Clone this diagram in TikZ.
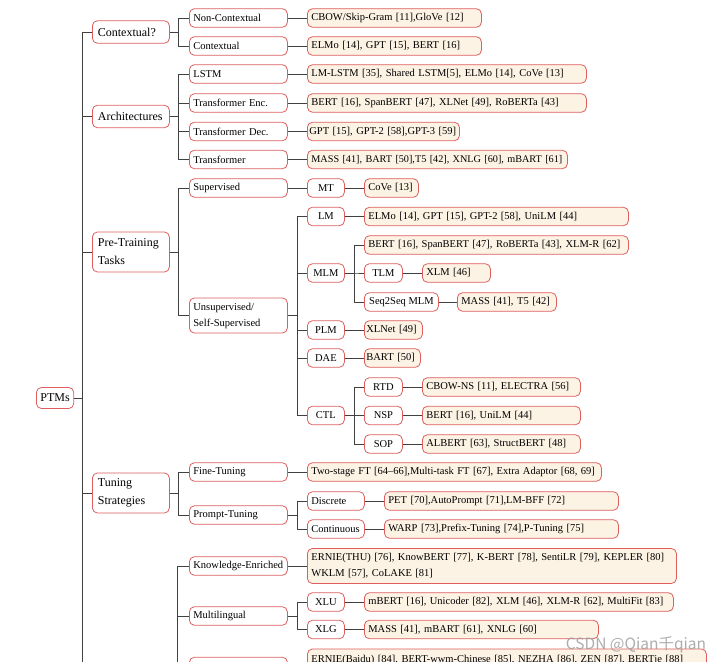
\documentclass[tikz,border=0pt]{standalone}
\usepackage{fontspec}
\setmainfont{Liberation Serif}
\newfontfamily\cjk{Noto Sans CJK SC}

\definecolor{boxred}{RGB}{222,94,94}
\definecolor{leafbg}{RGB}{253,243,228}

\tikzset{
  box/.style={draw=boxred, line width=0.8pt, rounded corners=5pt, anchor=west,
    fill=white, minimum height=18.5pt, inner xsep=5pt, inner ysep=1.5pt,
    font=\fontsize{10.5}{16}\selectfont},
  root/.style={box, minimum height=21pt, inner xsep=4pt,
    font=\fontsize{12}{18}\selectfont},
  topic/.style={box, text width=66pt, align=left, inner xsep=5.5pt,
    minimum height=22.5pt, font=\fontsize{12}{18}\selectfont},
  branch/.style={box, text width=90pt, align=left, inner xsep=4pt},
  tag/.style={box, minimum width=37pt, inner xsep=3pt, align=center},
  leaf/.style={box, fill=leafbg, inner xsep=4pt, align=left, text width=#1},
  link/.style={draw=black!75, line width=0.6pt},
}

\begin{document}
\begin{tikzpicture}[x=1pt, y=-1pt]
  \useasboundingbox (0,0) rectangle (724,666);
  \def\xa{92}
  \def\xb{189}
  \def\xc{307}
  \def\xd{364}

  \begin{scope}
  \clip (0,0) rectangle (724,661);

  % root and first level
  \node[root] (ptms) at (36,398) {PTMs};
  \node[topic] (ctx) at (\xa,32) {Contextual?};
  \node[topic] (arch) at (\xa,116.5) {Architectures};
  \node[topic, minimum height=40pt] (task) at (\xa,252) {Pre-Training Tasks};
  \node[topic, minimum height=40pt] (tune) at (\xa,493) {Tuning Strategies};
  \coordinate (ext) at (\xa,720);
  \coordinate (exte) at (169,720);

  % second level
  \node[branch] (nonctx) at (\xb,18) {Non-Contextual};
  \node[branch] (ctxl) at (\xb,46) {Contextual};
  \node[branch] (lstm) at (\xb,74) {LSTM};
  \node[branch] (tenc) at (\xb,103) {Transformer Enc.};
  \node[branch] (tdec) at (\xb,131.5) {Transformer Dec.};
  \node[branch] (tfm) at (\xb,159.5) {Transformer};
  \node[branch] (sup) at (\xb,188) {Supervised};
  \node[branch, minimum height=35pt] (unsup) at (\xb,315.5) {Unsupervised/\\Self-Supervised};
  \node[branch] (fine) at (\xb,472) {Fine-Tuning};
  \node[branch] (prompt) at (\xb,515) {Prompt-Tuning};
  \node[branch] (know) at (\xb,566) {Knowledge-Enriched};
  \node[branch] (multi) at (\xb,616) {Multilingual};
  \node[branch] (lang) at (\xb,666.5) {};

  % third level
  \node[tag] (mt) at (\xc,188) {MT};
  \node[tag] (lm) at (\xc,216.5) {LM};
  \node[tag] (mlm) at (\xc,273) {MLM};
  \node[tag] (plm) at (\xc,330) {PLM};
  \node[tag] (dae) at (\xc,358) {DAE};
  \node[tag] (ctl) at (\xc,415.5) {CTL};
  \node[box, text width=49pt, align=left, inner xsep=4pt] (disc) at (\xc,501) {Discrete};
  \node[box, text width=49pt, align=left, inner xsep=4pt] (cont) at (\xc,529) {Continuous};
  \node[tag] (xlu) at (\xc,602) {XLU};
  \node[tag] (xlg) at (\xc,629.5) {XLG};

  % fourth level
  \node[tag, minimum width=38pt] (tlm) at (\xd,273) {TLM};
  \node[tag, minimum width=74pt] (s2s) at (\xd,302) {Seq2Seq MLM};
  \node[tag, minimum width=38pt] (rtd) at (\xd,387) {RTD};
  \node[tag, minimum width=38pt] (nsp) at (\xd,415.5) {NSP};
  \node[tag, minimum width=38pt] (sop) at (\xd,444) {SOP};

  % leaves
  \node[leaf=166pt] (l1) at (\xc,18) {CBOW/Skip-Gram [11],GloVe [12]};
  \node[leaf=166pt] (l2) at (\xc,46) {ELMo [14], GPT [15], BERT [16]};
  \node[leaf=271pt] (l3) at (\xc,74) {LM-LSTM [35], Shared LSTM[5], ELMo [14], CoVe [13]};
  \node[leaf=271pt] (l4) at (\xc,103) {BERT [16], SpanBERT [47], XLNet [49], RoBERTa [43]};
  \node[leaf=148pt, inner xsep=2pt] (l5) at (\xc,131.5) {GPT [15], GPT-2 [58],GPT-3 [59]};
  \node[leaf=252pt, font=\fontsize{10.2}{16}\selectfont] (l6) at (\xc,159.5) {\mbox{MASS [41], BART [50],T5 [42], XNLG [60], mBART [61]}};
  \node[leaf=46pt] (covel) at (\xd,188) {CoVe [13]};
  \node[leaf=256pt] (lml) at (\xd,216.5) {ELMo [14], GPT [15], GPT-2 [58], UniLM [44]};
  \node[leaf=256pt] (mlml) at (\xd,245) {BERT [16], SpanBERT [47], RoBERTa [43], XLM-R [62]};
  \node[leaf=60pt] (tlml) at (422,273) {XLM [46]};
  \node[leaf=91pt] (s2sl) at (457,302) {MASS [41], T5 [42]};
  \node[leaf=54pt, inner xsep=2pt] (plml) at (\xd,330) {XLNet [49]};
  \node[leaf=52pt, inner xsep=2pt] (bartl) at (\xd,358) {BART [50]};
  \node[leaf=150pt] (rtdl) at (422,387) {CBOW-NS [11], ELECTRA [56]};
  \node[leaf=150pt] (nspl) at (422,415.5) {BERT [16], UniLM [44]};
  \node[leaf=150pt] (sopl) at (422,444) {ALBERT [63], StructBERT [48]};
  \node[leaf=286pt] (finel) at (\xc,472) {Two-stage FT [64--66],Multi-task FT [67], Extra Adaptor [68, 69]};
  \node[leaf=226pt] (discl) at (384,501) {PET [70],AutoPrompt [71],LM-BFF [72]};
  \node[leaf=226pt] (contl) at (384,529) {WARP [73],Prefix-Tuning [74],P-Tuning [75]};
  \node[leaf=361pt, minimum height=35pt] (knowl) at (\xc,566) {ERNIE(THU) [76], KnowBERT [77], K-BERT [78], SentiLR [79], KEPLER [80]\\WKLM [57], CoLAKE [81]};
  \node[leaf=301pt] (xlul) at (\xd,602) {mBERT [16], Unicoder [82], XLM [46], XLM-R [62], MultiFit [83]};
  \node[leaf=226pt] (xlgl) at (\xd,629.5) {MASS [41], mBART [61], XNLG [60]};
  \node[leaf=391pt, minimum height=35pt] (langl) at (\xc,666.5) {ERNIE(Baidu) [84], BERT-wwm-Chinese [85], NEZHA [86], ZEN [87], BERTje [88]\\ \phantom{X}};

  % connectors
  \foreach \c in {ctx,arch,task,tune}
    \draw[link] (ptms.east) -- ++(8,0) |- (\c.west);
  \draw[link] (ptms.east) -- ++(8,0) |- (ext);
  \foreach \p/\c in {ctx/nonctx, ctx/ctxl, arch/lstm, arch/tenc, arch/tdec, arch/tfm,
      task/sup, task/unsup, tune/fine, tune/prompt}
    \draw[link] (\p.east) -- ++(8,0) |- (\c.west);
  \foreach \c in {know,multi,lang}
    \draw[link] (exte) -- ++(8,0) |- (\c.west);
  \foreach \p/\c in {unsup/lm, unsup/mlm, unsup/plm, unsup/dae, unsup/ctl,
      mlm/mlml, mlm/tlm, mlm/s2s, ctl/rtd, ctl/nsp, ctl/sop,
      prompt/disc, prompt/cont, multi/xlu, multi/xlg}
    \draw[link] (\p.east) -- ++(9,0) |- (\c.west);
  \foreach \p/\c in {nonctx/l1, ctxl/l2, lstm/l3, tenc/l4, tdec/l5, tfm/l6,
      sup/mt, mt/covel, lm/lml, tlm/tlml, s2s/s2sl, plm/plml, dae/bartl,
      rtd/rtdl, nsp/nspl, sop/sopl, fine/finel, disc/discl, cont/contl,
      know/knowl, xlu/xlul, xlg/xlgl, lang/langl}
    \draw[link] (\p.east) -- (\c.west);

  % watermark
  \node[text=black!40, opacity=.8, font=\cjk\fontsize{15.5}{15.5}\selectfont] (mark) at (636,645) {CSDN @Qian千qian};
  \end{scope}
\end{tikzpicture}
\end{document}
